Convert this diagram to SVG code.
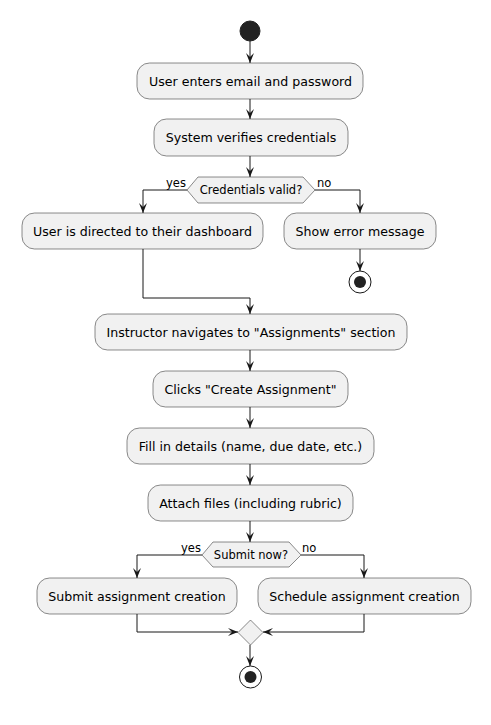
<svg xmlns="http://www.w3.org/2000/svg" width="491" height="725" viewBox="0 0 491 725">
<style>
.n{fill:#F1F1F1;stroke:#181818;stroke-width:0.5}
.t{font-family:"DejaVu Sans",sans-serif;font-size:12.6px;fill:#000;text-anchor:middle}
.d{font-family:"DejaVu Sans",sans-serif;font-size:11.5px;fill:#000;text-anchor:middle}
.l{font-family:"DejaVu Sans",sans-serif;font-size:11.5px;fill:#000}
.c{fill:none;stroke:#181818;stroke-width:1;marker-end:url(#a)}
</style>
<defs>
<marker id="a" markerUnits="userSpaceOnUse" markerWidth="10" markerHeight="8" refX="10" refY="4" orient="auto">
<path d="M0,0 L10,4 L0,8 L4,4 Z" fill="#181818"/>
</marker>
</defs>
<rect width="491" height="725" fill="#FFFFFF"/>
<g id="connectors">
<path class="c" d="M250,41 V63"/>
<path class="c" d="M250,99 V119"/>
<path class="c" d="M250,156 V177"/>
<path class="c" d="M187,190 H143 V213"/>
<path class="c" d="M315,190 H360 V213"/>
<path class="c" d="M360,249 V271"/>
<path class="c" d="M143,249 V298 H250 V314"/>
<path class="c" d="M250,350 V371"/>
<path class="c" d="M250,407 V428"/>
<path class="c" d="M250,464 V485"/>
<path class="c" d="M250,521 V542"/>
<path class="c" d="M202,555 H137 V578"/>
<path class="c" d="M301,555 H364 V578"/>
<path class="c" d="M137,614 V632 H238"/>
<path class="c" d="M364,614 V632 H263"/>
<path class="c" d="M250,645 V666"/>
<text class="l" x="166" y="187">yes</text>
<text class="l" x="317" y="187">no</text>
<text class="l" x="181" y="552">yes</text>
<text class="l" x="302" y="552">no</text>
</g>
<g id="start"><circle cx="250" cy="31" r="10" fill="#222222" stroke="#222222"/></g>
<g id="n1"><rect class="n" x="137" y="63" width="226" height="36" rx="12.5"/><text class="t" x="250.5" y="85.5">User enters email and password</text></g>
<g id="n2"><rect class="n" x="154" y="119" width="194" height="37" rx="12.5"/><text class="t" x="251" y="142">System verifies credentials</text></g>
<g id="d1"><polygon class="n" points="187,190 198,177 303,177 315,190 303,203 198,203"/><text class="d" x="251" y="194">Credentials valid?</text></g>
<g id="n3"><rect class="n" x="22" y="213" width="241" height="36" rx="12.5"/><text class="t" x="142.5" y="235.5">User is directed to their dashboard</text></g>
<g id="n4"><rect class="n" x="284" y="213" width="152" height="36" rx="12.5"/><text class="t" x="360" y="235.5">Show error message</text></g>
<g id="stop1"><circle cx="360" cy="282" r="11" fill="#FFFFFF" stroke="#181818" stroke-width="1"/><circle cx="360" cy="282" r="6" fill="#222222"/></g>
<g id="n5"><rect class="n" x="95" y="314" width="312" height="36" rx="12.5"/><text class="t" x="251" y="336.5">Instructor navigates to "Assignments" section</text></g>
<g id="n6"><rect class="n" x="153" y="371" width="195" height="36" rx="12.5"/><text class="t" x="250.5" y="393.5">Clicks "Create Assignment"</text></g>
<g id="n7"><rect class="n" x="127" y="428" width="247" height="36" rx="12.5"/><text class="t" x="250.5" y="450.5">Fill in details (name, due date, etc.)</text></g>
<g id="n8"><rect class="n" x="148" y="485" width="205" height="36" rx="12.5"/><text class="t" x="250.5" y="507.5">Attach files (including rubric)</text></g>
<g id="d2"><polygon class="n" points="202,555 213,542 289,542 301,555 289,567 213,567"/><text class="d" x="251" y="559">Submit now?</text></g>
<g id="n9"><rect class="n" x="37" y="578" width="200" height="36" rx="12.5"/><text class="t" x="137" y="600.5">Submit assignment creation</text></g>
<g id="n10"><rect class="n" x="258" y="578" width="213" height="36" rx="12.5"/><text class="t" x="364.5" y="600.5">Schedule assignment creation</text></g>
<g id="merge"><polygon class="n" points="250.5,620 263,632.5 250.5,645 238,632.5"/></g>
<g id="stop2"><circle cx="250.5" cy="677" r="11" fill="#FFFFFF" stroke="#181818" stroke-width="1"/><circle cx="250.5" cy="677" r="6" fill="#222222"/></g>
</svg>
